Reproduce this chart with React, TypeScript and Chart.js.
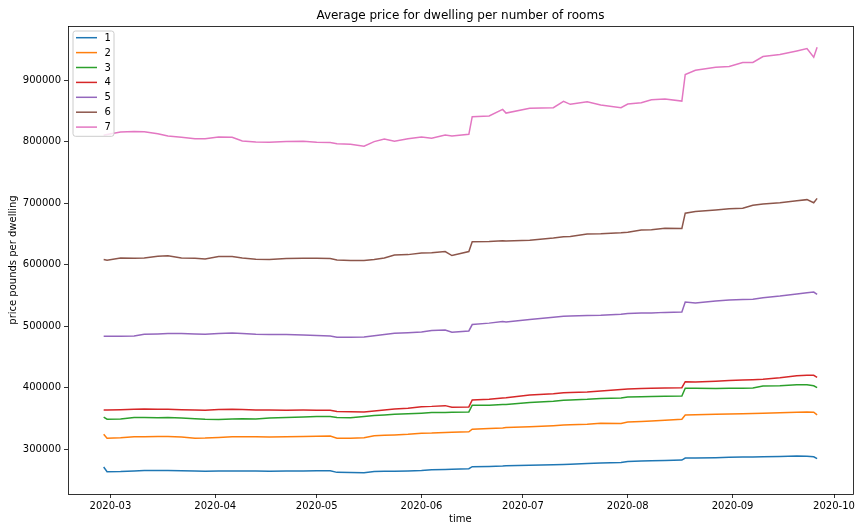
import React, { useEffect, useRef } from "react";
import { Chart, registerables } from "chart.js";

Chart.register(...registerables);

const dates = [
  "2020-02-28","2020-02-29","2020-03-04","2020-03-08","2020-03-11","2020-03-15","2020-03-18","2020-03-22","2020-03-26","2020-03-29",
  "2020-04-02","2020-04-06","2020-04-09","2020-04-13","2020-04-17","2020-04-22","2020-04-27","2020-05-01","2020-05-05","2020-05-07",
  "2020-05-11","2020-05-15","2020-05-18","2020-05-21","2020-05-24","2020-05-28","2020-06-01","2020-06-04","2020-06-08","2020-06-10",
  "2020-06-15","2020-06-16","2020-06-21","2020-06-25","2020-06-26","2020-07-03","2020-07-10","2020-07-13","2020-07-15","2020-07-20",
  "2020-07-24","2020-07-30","2020-08-01","2020-08-05","2020-08-08","2020-08-12","2020-08-17","2020-08-18","2020-08-21","2020-08-27",
  "2020-08-31","2020-09-04","2020-09-07","2020-09-10","2020-09-15","2020-09-20","2020-09-23","2020-09-25","2020-09-26",
];

const rooms1 = [
  270800,263200,263500,264500,265300,265300,265300,264800,264200,264000,
  264500,264500,264300,264200,264000,264200,264500,264700,264700,262100,
  261800,261500,263500,263800,264000,264500,265300,266400,266800,267000,
  268100,271300,271800,272500,272800,273500,274500,275000,275500,276500,
  277500,278000,279900,280500,281000,281500,282100,285400,285500,286000,
  286500,287000,287300,287500,288000,288600,288400,287500,284300,
];
const rooms2 = [
  324300,317800,318500,319900,320000,320300,320400,319500,317800,318000,
  319000,319900,320000,320000,319500,320000,320500,321000,321100,317800,
  317800,318500,321700,322500,323000,324000,325800,326000,327000,327500,
  328100,332400,333500,334500,335000,336500,338000,339000,339500,340500,
  342000,341500,344000,345000,345800,347000,348600,355600,356000,356500,
  357000,357500,358000,358500,359000,360000,360500,360000,355600,
];
const rooms3 = [
  351900,348600,348800,351300,351300,351000,351300,350500,349500,348500,
  348000,349000,349500,348800,350500,351500,352400,353000,352900,351300,
  351000,353000,354500,355500,356500,357500,358500,359400,359500,359800,
  360500,371300,371500,372500,372500,376000,378000,379500,380000,381000,
  382500,383000,384800,385000,385500,386000,386400,398900,399000,398500,
  399000,399000,399500,402600,403000,404800,404500,403000,399900,
];
const rooms4 = [
  363700,363500,364000,364800,365300,364800,364800,364000,363500,363200,
  364500,364800,364300,363800,363500,363300,363500,363300,363200,361000,
  360600,360400,362000,363500,365300,366500,369000,369500,370700,368100,
  368600,379900,381000,383000,383500,388000,390000,391500,392000,393000,
  394500,397000,397800,398500,399000,399500,399900,409600,409000,410500,
  411500,412500,413000,413500,416000,419500,420000,420000,416800,
];
const rooms5 = [
  483700,483700,483500,484000,487000,487500,488100,488000,487500,487000,
  488000,489000,488000,487000,486500,486500,485800,485000,484200,482100,
  482000,482300,484500,486500,488600,489500,490500,493000,493900,490200,
  492300,502700,505000,507500,507000,510800,514500,516200,516500,517500,
  518000,519500,520500,521500,521500,522500,523100,539300,537700,541000,
  542500,543500,544000,546400,549000,552500,554500,555600,551800,
];
const rooms6 = [
  608600,607400,611000,610500,611000,614000,614500,611000,610500,609400,
  613500,613500,611000,609000,608500,610000,610500,610500,610000,607700,
  607000,606800,608500,611000,616000,616500,619000,619500,621600,615000,
  621500,637500,638000,639000,638500,640000,643500,645500,646000,650000,
  650500,652000,653000,656500,657000,659500,659000,684000,686500,689000,
  691000,692000,697000,699000,701000,704000,706000,701000,708000,
];
const rooms7 = [
  810700,812000,816000,817000,816600,813300,809500,807500,805300,805000,
  808000,807500,801600,800000,799500,800500,801000,799600,799000,797000,
  796000,793000,800400,804800,801000,805000,808000,806000,811000,809700,
  812400,841000,842100,852900,846900,854600,855700,866000,861100,865400,
  860000,855700,861600,863700,868600,869700,866400,909700,916700,921600,
  922700,929200,929200,938900,942100,948000,951900,937800,954000,
];

const seriesLabels = ["1", "2", "3", "4", "5", "6", "7"];
const seriesValues = [rooms1, rooms2, rooms3, rooms4, rooms5, rooms6, rooms7];
const seriesColors = ["#1f77b4", "#ff7f0e", "#2ca02c", "#d62728", "#9467bd", "#8c564b", "#e377c2"];

const monthTicks = ["2020-03-01","2020-04-01","2020-05-01","2020-06-01","2020-07-01","2020-08-01","2020-09-01","2020-10-01"];
const yTicks = [300000, 400000, 500000, 600000, 700000, 800000, 900000];

const titleText = "Average price for dwelling per number of rooms";
const xLabel = "time";
const yLabel = "price pounds per dwelling";

const FONT = "'DejaVu Sans', sans-serif";
const W = 857;
const H = 526;

const dayNum = (s: string) => {
  const [y, m, d] = s.split("-").map(Number);
  return Date.UTC(y, m - 1, d) / 86400000;
};
const fmtMonth = (v: number) => {
  const dt = new Date(Math.round(v) * 86400000);
  return `${dt.getUTCFullYear()}-${String(dt.getUTCMonth() + 1).padStart(2, "0")}`;
};

export default function App() {
  const ref = useRef<HTMLCanvasElement | null>(null);

  useEffect(() => {
    if (!ref.current) return;
    const xs = dates.map(dayNum);
    const x0 = xs[0];
    const x1 = xs[xs.length - 1];
    const xPad = (x1 - x0) * 0.05;
    const all = seriesValues.flat();
    const yMinD = Math.min(...all);
    const yMaxD = Math.max(...all);
    const yPad = (yMaxD - yMinD) * 0.05;

    const decor = {
      id: "decor",
      afterDatasetsDraw(chart: any) {
        const { ctx, chartArea: a } = chart;
        ctx.save();
        // frame
        ctx.strokeStyle = "#000";
        ctx.lineWidth = 0.8;
        ctx.strokeRect(Math.round(a.left) + 0.5, Math.round(a.top) + 0.5, Math.round(a.right - a.left), Math.round(a.bottom - a.top));
        // title
        ctx.fillStyle = "#000";
        ctx.font = `12px ${FONT}`;
        ctx.textAlign = "center";
        ctx.textBaseline = "alphabetic";
        ctx.fillText(titleText, (a.left + a.right) / 2, a.top - 7);
        // legend
        const lx = a.left + 5;
        const ly = a.top + 5;
        const lw = 41;
        const rowH = 14.9;
        const lh = rowH * seriesLabels.length + 1;
        const r = 2.5;
        ctx.beginPath();
        ctx.moveTo(lx + r, ly);
        ctx.lineTo(lx + lw - r, ly);
        ctx.quadraticCurveTo(lx + lw, ly, lx + lw, ly + r);
        ctx.lineTo(lx + lw, ly + lh - r);
        ctx.quadraticCurveTo(lx + lw, ly + lh, lx + lw - r, ly + lh);
        ctx.lineTo(lx + r, ly + lh);
        ctx.quadraticCurveTo(lx, ly + lh, lx, ly + lh - r);
        ctx.lineTo(lx, ly + r);
        ctx.quadraticCurveTo(lx, ly, lx + r, ly);
        ctx.closePath();
        ctx.fillStyle = "rgba(255,255,255,0.8)";
        ctx.fill();
        ctx.strokeStyle = "#cccccc";
        ctx.lineWidth = 1;
        ctx.stroke();
        ctx.font = `10px ${FONT}`;
        ctx.textAlign = "left";
        ctx.textBaseline = "middle";
        seriesLabels.forEach((lab, i) => {
          const cy = ly + 6.7 + i * rowH;
          ctx.strokeStyle = seriesColors[i];
          ctx.lineWidth = 1.5;
          ctx.beginPath();
          ctx.moveTo(lx + 3, cy);
          ctx.lineTo(lx + 24, cy);
          ctx.stroke();
          ctx.fillStyle = "#000";
          ctx.fillText(lab, lx + 31.5, cy + 0.5);
        });
        ctx.restore();
      },
    };

    const tickFont = { family: FONT, size: 10 };
    const gridOpts = {
      display: true,
      drawOnChartArea: false,
      drawTicks: true,
      tickLength: 4,
      color: "#000",
      lineWidth: 0.8,
    };

    const chart = new Chart(ref.current, {
      type: "line",
      data: {
        datasets: seriesLabels.map((lab, i) => ({
          label: lab,
          data: xs.map((x, j) => ({ x, y: seriesValues[i][j] })),
          borderColor: seriesColors[i],
          backgroundColor: seriesColors[i],
          borderWidth: 1.5,
          pointRadius: 0,
          tension: 0,
          fill: false,
        })),
      },
      options: {
        animation: false,
        responsive: false,
        maintainAspectRatio: false,
        layout: { padding: { top: 26, right: 4, left: 0, bottom: 0 } },
        plugins: {
          legend: { display: false },
          title: { display: false },
          tooltip: { enabled: false },
        },
        scales: {
          x: {
            type: "linear",
            min: x0 - xPad,
            max: x1 + xPad,
            afterBuildTicks: (s: any) => {
              s.ticks = monthTicks.map((m) => ({ value: dayNum(m) }));
            },
            afterFit: (s: any) => {
              s.height = 32;
            },
            ticks: {
              callback: (v: any) => fmtMonth(Number(v)),
              maxRotation: 0,
              autoSkip: false,
              font: tickFont,
              color: "#000",
              padding: 2,
            },
            grid: gridOpts,
            border: { display: false },
            title: {
              display: true,
              text: xLabel,
              font: tickFont,
              color: "#000",
              padding: { top: 0, bottom: 1 },
            },
          },
          y: {
            type: "linear",
            min: yMinD - yPad,
            max: yMaxD + yPad,
            afterBuildTicks: (s: any) => {
              s.ticks = yTicks.map((v) => ({ value: v }));
            },
            afterFit: (s: any) => {
              s.width = 68;
            },
            ticks: {
              callback: (v: any) => String(v),
              font: tickFont,
              color: "#000",
              padding: 3,
            },
            grid: gridOpts,
            border: { display: false },
            title: {
              display: true,
              text: yLabel,
              font: tickFont,
              color: "#000",
              padding: { top: 7, bottom: 0 },
            },
          },
        },
      },
      plugins: [decor],
    } as any);

    return () => chart.destroy();
  }, []);

  return (
    <div style={{ position: "absolute", left: 0, top: 0, width: W, height: H, background: "#fff" }}>
      <canvas ref={ref} width={W} height={H} style={{ width: W, height: H, display: "block" }} />
    </div>
  );
}
